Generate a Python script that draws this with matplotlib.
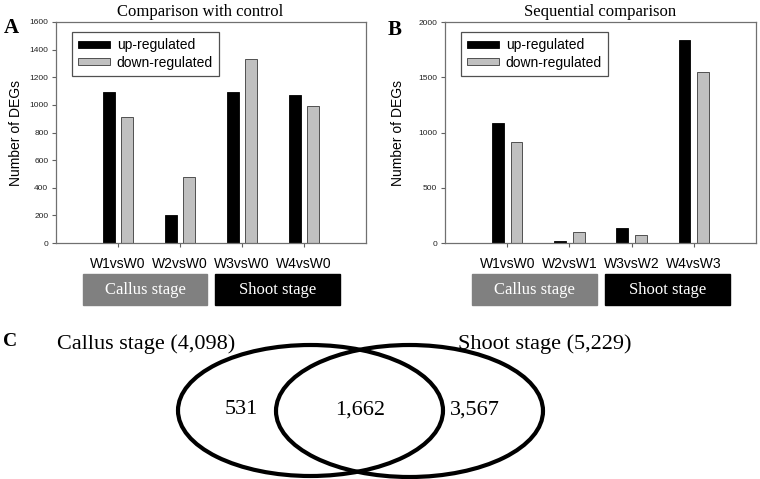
import matplotlib
matplotlib.use('Agg')
import matplotlib.pyplot as plt
from matplotlib.patches import Ellipse, Rectangle
import numpy as np

plt.rcParams['font.family'] = ['Liberation Sans', 'DejaVu Sans']
SERIF = ['Liberation Serif', 'DejaVu Serif']

# panel A: each week against the W0 control
control_labels = ['W1vsW0', 'W2vsW0', 'W3vsW0', 'W4vsW0']
control_up = [1090, 200, 1095, 1075]
control_down = [915, 475, 1335, 995]

# panel B: each week against the previous one
seq_labels = ['W1vsW0', 'W2vsW1', 'W3vsW2', 'W4vsW3']
seq_up = [1090, 18, 135, 1840]
seq_down = [915, 100, 72, 1545]

stage_names = ['Callus stage', 'Shoot stage']

# panel C: venn counts
callus_total = 4098
shoot_total = 5229
callus_only = 531
shared = 1662
shoot_only = 3567


def bar_panel(ax, labels, up, down, ymax, ystep, title, title_x, ylab_x, letter_xy):
    x = np.arange(1, len(labels) + 1)
    ax.bar(x - 0.15, up, width=0.19, color='black', edgecolor='black', lw=0.6, label='up-regulated')
    ax.bar(x + 0.15, down, width=0.19, color='#c0c0c0', edgecolor='#3a3a3a', lw=0.6, label='down-regulated')
    ax.set_xlim(0, 5)
    ax.set_ylim(0, ymax)
    ax.set_xticks(x)
    ax.set_xticklabels(labels, fontsize=10)
    ax.set_yticks(np.arange(0, ymax + 1, ystep))
    ax.tick_params(axis='y', labelsize=6, length=3, width=0.8, color='#606060', pad=2.5, labelcolor='#222222')
    ax.tick_params(axis='x', length=3, width=0.8, color='#606060', pad=7)
    for s in ax.spines.values():
        s.set_color('#707070')
        s.set_linewidth(0.9)
    ax.set_ylabel('Number of DEGs', fontsize=10)
    ax.yaxis.set_label_coords(ylab_x, 0.5)
    ax.set_title(title, x=title_x, pad=4, fontsize=12, family=SERIF)
    leg = ax.legend(loc='upper left', bbox_to_anchor=(0.05, 0.955), fontsize=10, fancybox=False,
                    edgecolor='#505050', framealpha=1, handlelength=2.3, handleheight=0.45,
                    handletextpad=0.5, labelspacing=0.25, borderpad=0.45, borderaxespad=0)
    leg.get_frame().set_linewidth(0.9)
    # stage boxes under the tick labels
    trans = ax.get_xaxis_transform()
    spans = [(0.43, 2.44), (2.57, 4.58)]
    colors = ['#808080', 'black']
    for name, (x0, x1), c in zip(stage_names, spans, colors):
        ax.add_patch(Rectangle((x0, -0.282), x1 - x0, 0.142, transform=trans, color=c, clip_on=False))
        ax.text((x0 + x1) / 2, -0.211, name, transform=trans, ha='center', va='center',
                color='white', fontsize=12, family=SERIF)
    ax.text(letter_xy[0], letter_xy[1], letter_xy[2], transform=ax.transAxes,
            fontsize=15, fontweight='bold', family=SERIF, ha='center', va='top')


fig = plt.figure(figsize=(7.6, 4.79), dpi=100)
W, H = 760, 479
axA = fig.add_axes([56 / W, 1 - 243 / H, 310 / W, 221 / H])
axB = fig.add_axes([445 / W, 1 - 243 / H, 311 / W, 221 / H])

bar_panel(axA, control_labels, control_up, control_down, 1600, 200,
          'Comparison with control', 0.465, -0.106, (-0.145, 1.018, 'A'))
bar_panel(axB, seq_labels, seq_up, seq_down, 2000, 500,
          'Sequential comparison', 0.5, -0.129, (-0.161, 1.009, 'B'))

# venn diagram drawn in pixel space over the whole figure
axC = fig.add_axes([0, 0, 1, 1])
axC.set_xlim(0, W)
axC.set_ylim(H, 0)
axC.axis('off')
axC.patch.set_visible(False)
axC.add_patch(Ellipse((310.5, 410.5), 265, 131, fill=False, lw=3, ec='black'))
axC.add_patch(Ellipse((409.5, 411), 267, 132, fill=False, lw=3, ec='black'))
axC.text(10, 341, 'C', fontsize=14, fontweight='bold', family=SERIF, ha='center', va='center')
axC.text(146, 344, f'Callus stage ({callus_total:,})', fontsize=16, family=SERIF, ha='center', va='center')
axC.text(545, 344, f'Shoot stage ({shoot_total:,})', fontsize=16, family=SERIF, ha='center', va='center')
for xp, n in zip([241, 360, 475], [callus_only, shared, shoot_only]):
    axC.text(xp, 410, f'{n:,}', fontsize=16, family=SERIF, ha='center', va='center')

fig.savefig('out.png', dpi=100)
